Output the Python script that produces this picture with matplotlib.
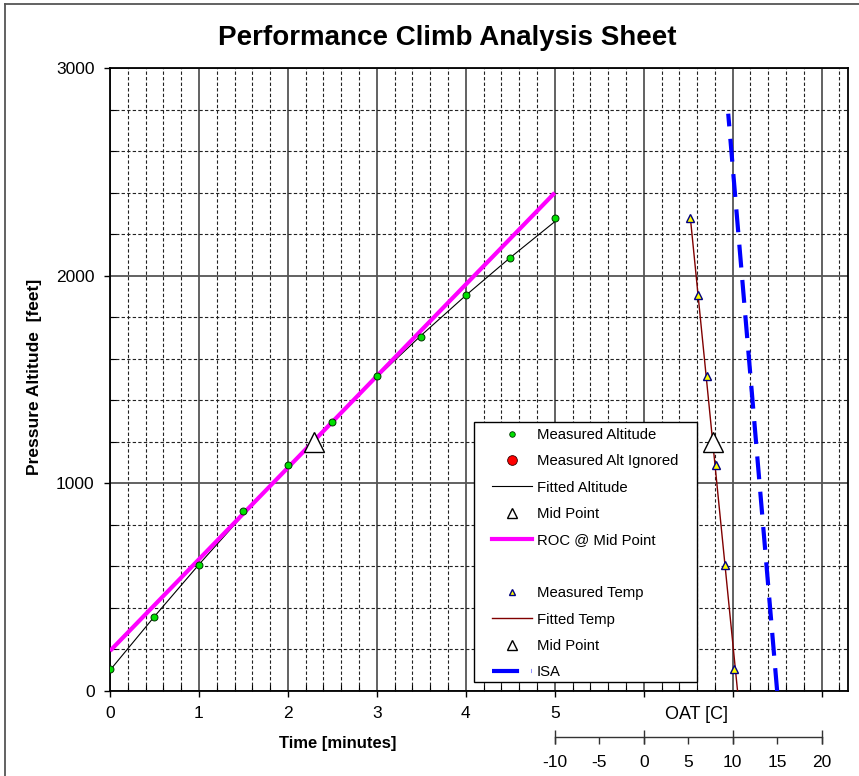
import matplotlib.pyplot as plt
from matplotlib.lines import Line2D
from matplotlib.patches import Rectangle
from matplotlib.ticker import MultipleLocator

plt.rcParams['font.family'] = ['Liberation Sans', 'DejaVu Sans']

# altitude readings every half minute
time_min = [0, 0.5, 1.0, 1.5, 2.0, 2.5, 3.0, 3.5, 4.0, 4.5, 5.0]
alt_ft = [104, 355, 605, 865, 1088, 1293, 1517, 1706, 1907, 2086, 2276]
alt_fit = [100, 359, 609, 849, 1079, 1300, 1511, 1713, 1905, 2087, 2260]

mid_time = 2.29
mid_alt = 1200
roc_time = [0, 5]
roc_alt = [193, 2399]

# OAT readings at each whole minute
temp_alt = [104, 605, 1088, 1517, 1907, 2276]
temp_c = [10.2, 9.1, 8.1, 7.15, 6.1, 5.25]
temp_fit_alt = [0, 2276]
temp_fit_c = [10.55, 5.25]
mid_temp = 7.76
isa_alt = [0, 2780]
isa_c = [15, 9.5]

time_labels = ['0', '1', '2', '3', '4', '5', '', '', '']
oat_ticks = [-10, -5, 0, 5, 10, 15, 20]
oat_long = [-10, 0, 10, 20]

fig = plt.figure(figsize=(8.59, 7.76), dpi=100)
ax = fig.add_axes([110/859, 1-691/776, 738.3/859, 623/776])

ax.set_xlim(0, 8.3)
ax.set_ylim(0, 3000)
ax.set_xticks(range(9), labels=time_labels)
ax.set_yticks([0, 1000, 2000, 3000])
ax.xaxis.set_minor_locator(MultipleLocator(0.2))
ax.yaxis.set_minor_locator(MultipleLocator(200))
ax.tick_params(which='major', direction='out', length=4, width=1, pad=7, labelsize=12.5)
ax.tick_params(which='minor', direction='in', length=4, width=0.8)
ax.grid(which='major', color='#555555', lw=1.3, ls='-')
ax.grid(which='minor', color='#222222', lw=0.8, ls=(0, (3, 2)))
ax.set_axisbelow(True)
for s in ax.spines.values():
    s.set_linewidth(1.3)

ax.plot(time_min, alt_fit, color='black', lw=0.8, zorder=3)
ax.plot(roc_time, roc_alt, color='#FF00FF', lw=3, solid_capstyle='butt', zorder=3)
ax.plot(time_min, alt_ft, ls='none', marker='o', ms=5, mfc='#00E000', mec='#003300', mew=0.7, zorder=4)
ax.plot([mid_time], [mid_alt], ls='none', marker='^', ms=14, mfc='white', mec='black', mew=1, zorder=5)

ax.text(0.309, -0.085, 'Time [minutes]', transform=ax.transAxes, ha='center', va='center',
        fontsize=12, fontweight='bold')
ax.text(-0.102, 0.504, 'Pressure Altitude  [feet]', transform=ax.transAxes, ha='center', va='center',
        rotation=90, fontsize=12.5, fontweight='bold')
ax.text(0.795, -0.0385, 'OAT [C]', transform=ax.transAxes, ha='center', va='center', fontsize=13)

# temperature axis: same x extent, x = 6 + T/10
ax_t = ax.twiny()
ax_t.set_xlim(-60, 23)
ax_t.set_ylim(0, 3000)
ax_t.xaxis.set_ticks_position('bottom')
for name in ['top', 'left', 'right']:
    ax_t.spines[name].set_visible(False)
ax_t.spines['bottom'].set_position(('outward', 33))
ax_t.spines['bottom'].set_bounds(-10, 20)
ax_t.spines['bottom'].set_linewidth(1)
ax_t.spines['bottom'].set_color('#333333')
ax_t.xaxis.remove_overlapping_locs = False
ax_t.set_xticks(oat_ticks, labels=[str(v) for v in oat_ticks])
ax_t.set_xticks(oat_long, minor=True)
ax_t.tick_params(which='major', direction='out', length=5, width=1, pad=8, labelsize=12.5,
                 colors='#333333', labelcolor='black')
ax_t.tick_params(which='minor', direction='inout', length=9.5, width=1, colors='#333333')

ax_t.plot(isa_c, isa_alt, color='#0000FF', lw=3, ls=(0, (5.5, 3)), zorder=3)
ax_t.plot(temp_fit_c, temp_fit_alt, color='#800000', lw=1, zorder=3)
ax_t.plot(temp_c, temp_alt, ls='none', marker='^', ms=6, mfc='yellow', mec='#000080', mew=1, zorder=4)
ax_t.plot([mid_temp], [mid_alt], ls='none', marker='^', ms=14, mfc='white', mec='black', mew=1, zorder=5)

# legend box
ax_t.add_patch(Rectangle((0.493, 0.0149), 0.3016, 0.4173, transform=ax_t.transAxes,
                         facecolor='white', edgecolor='black', lw=1, zorder=9, clip_on=False))

handles = [
    Line2D([], [], ls='none', marker='o', ms=4, mfc='#00E000', mec='#003300', mew=0.6),
    Line2D([], [], ls='none', marker='o', ms=7, mfc='red', mec='#330000', mew=0.6),
    Line2D([], [], color='black', lw=0.8),
    Line2D([], [], ls='none', marker='^', ms=7, mfc='white', mec='black', mew=1),
    Line2D([], [], color='#FF00FF', lw=3),
    Line2D([], [], ls='none'),
    Line2D([], [], ls='none', marker='^', ms=4.5, mfc='yellow', mec='#000080', mew=1),
    Line2D([], [], color='#800000', lw=1),
    Line2D([], [], ls='none', marker='^', ms=7, mfc='white', mec='black', mew=1),
    Line2D([], [], color='#0000FF', lw=3, ls=(0, (6.5, 3))),
]
labels = ['Measured Altitude', 'Measured Alt Ignored', 'Fitted Altitude', 'Mid Point',
          'ROC @ Mid Point', ' ', 'Measured Temp', 'Fitted Temp', 'Mid Point', 'ISA']
leg = ax_t.legend(handles, labels, loc='upper left', bbox_to_anchor=(0.517, 0.4225),
                  borderaxespad=0, borderpad=0, fontsize=10.7, handlelength=2.7,
                  handletextpad=0.32, labelspacing=0.835, frameon=False)
leg.set_zorder(10)

fig.text(0.521, 0.9515, 'Performance Climb Analysis Sheet', ha='center', va='center',
         fontsize=20, fontweight='bold')

# sheet border (left and top)
fig.add_artist(Line2D([4.7/859, 4.7/859], [0, 1-4/776], transform=fig.transFigure, color='#555555', lw=1.3))
fig.add_artist(Line2D([4.7/859, 1], [1-4/776, 1-4/776], transform=fig.transFigure, color='#555555', lw=1.3))

fig.savefig('out.png', dpi=100)
